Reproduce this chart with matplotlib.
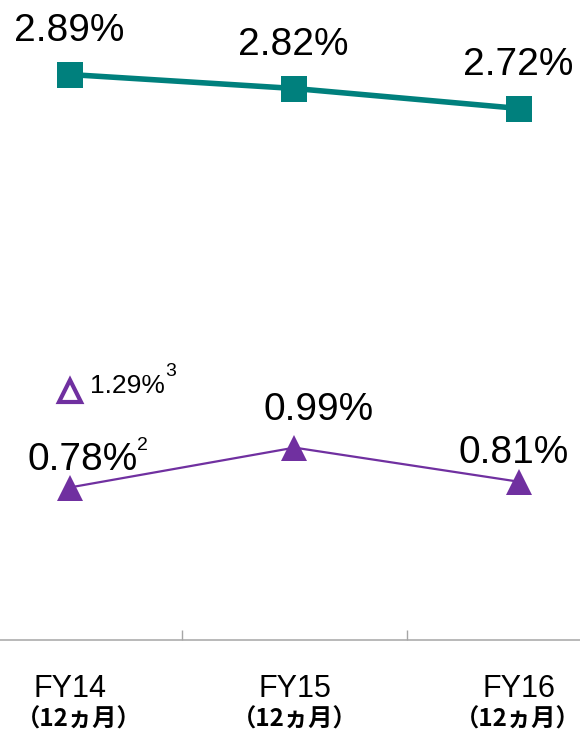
import matplotlib.pyplot as plt

plt.rcParams['font.family'] = ['Liberation Sans', 'Noto Sans CJK JP', 'DejaVu Sans']

# データ
years = ['FY14', 'FY15', 'FY16']
period = '（12ヵ月）'
rate_teal = [2.89, 2.82, 2.72]
rate_purple = [0.78, 0.99, 0.81]
rate_extra = 1.29      # FY14 白抜き三角
note_purple = '2'
note_extra = '3'

TEAL = '#00807D'
PURPLE = '#7030A0'
GRAY = '#A6A6A6'

W, H = 580, 731
fig = plt.figure(figsize=(W / 100, H / 100), dpi=100)
ax = fig.add_axes([0, 1 - 640 / H, 1, 640 / H])
ax2 = ax.twinx()

x = list(range(len(years)))

# 線
ax.plot(x, rate_purple, color=PURPLE, linewidth=1.6, marker='^',
        markersize=18.4, markeredgewidth=0, zorder=3)
ax.plot([0], [rate_extra], linestyle='none', marker='^', markersize=15.5,
        markerfacecolor='white', markeredgecolor=PURPLE, markeredgewidth=3,
        zorder=3)
ax2.plot(x, rate_teal, color=TEAL, linewidth=4, marker='s',
         markersize=19.4, markeredgewidth=0, zorder=3)

# 軸の範囲
ax.set_xlim(-0.309, 2.269)
ax.set_ylim(-0.0226, 3.346)
ax2.set_ylim(0.0625, 3.2625)

for a in (ax, ax2):
    for s in a.spines.values():
        s.set_visible(False)
    a.set_yticks([])
ax.spines['bottom'].set_visible(True)
ax.spines['bottom'].set_color(GRAY)
ax.spines['bottom'].set_linewidth(1.1)
ax.set_xticks([0.5, 1.5])
ax.set_xticklabels([])
ax.tick_params(axis='x', direction='in', length=7.5, width=1, color=GRAY)

# ラベル
teal_off = [(-0.5, 24), (-1, 24), (-1, 24)]
for i, v in enumerate(rate_teal):
    ax2.annotate(f'{v:.2f}%', (i, v), xytext=teal_off[i],
                 textcoords='offset points', ha='center', va='baseline',
                 fontsize=28)

purple_off = [(9.7, 12.6), (17.6, 19.8), (-4, 13.7)]
for i, v in enumerate(rate_purple):
    ax.annotate(f'{v:.2f}%', (i, v), xytext=purple_off[i],
                textcoords='offset points', ha='center', va='baseline',
                fontsize=28)
ax.annotate(note_purple, (0, rate_purple[0]), xytext=(48.5, 27),
            textcoords='offset points', ha='left', va='baseline', fontsize=14)

ax.annotate(f'{rate_extra:.2f}%', (0, rate_extra), xytext=(15, -1.7),
            textcoords='offset points', ha='left', va='baseline', fontsize=19)
ax.annotate(note_extra, (0, rate_extra), xytext=(69, 10.5),
            textcoords='offset points', ha='left', va='baseline', fontsize=14)

# カテゴリ
tr = ax.get_xaxis_transform()
period_dx = [6.5, 0, -1.5]
for i, name in enumerate(years):
    ax.annotate(name, (i, 0), xycoords=tr, xytext=(0, -41),
                textcoords='offset points', ha='center', va='baseline',
                fontsize=22, annotation_clip=False)
    ax.annotate(period, (i, 0), xycoords=tr, xytext=(period_dx[i], -62),
                textcoords='offset points', ha='center', va='baseline',
                fontsize=17.5, fontweight='bold',
                family=['Noto Sans CJK JP', 'DejaVu Sans'],
                annotation_clip=False)

fig.savefig('out.png', dpi=100)
